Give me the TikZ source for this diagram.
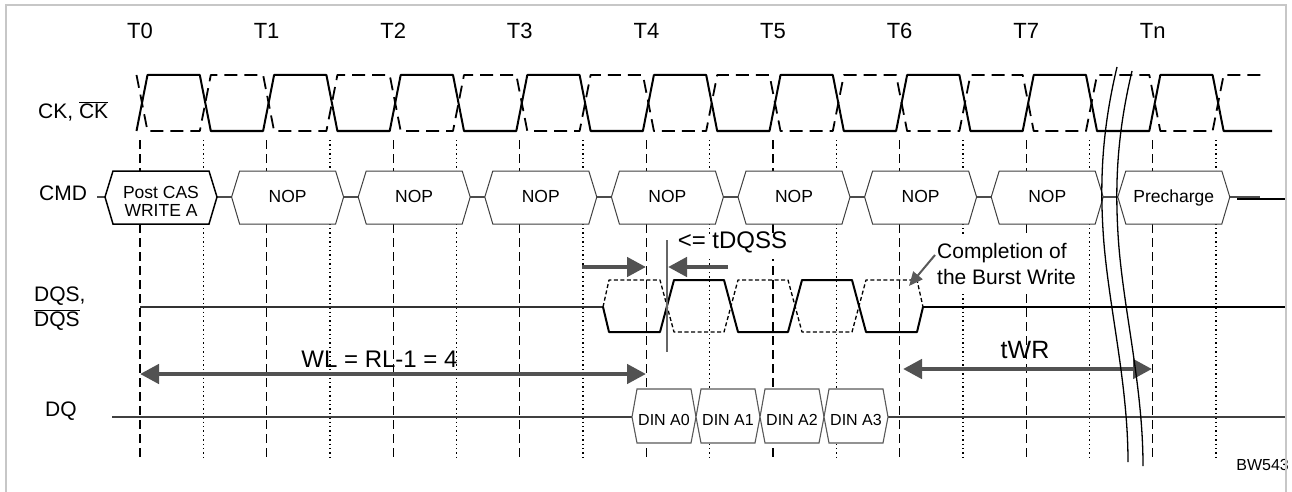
\documentclass[tikz,border=0pt]{standalone}
\usepackage{fontspec}
\setmainfont{Liberation Sans}
\usetikzlibrary{arrows.meta}

\tikzset{
  tlab/.style={anchor=base, inner sep=0pt, font=\fontsize{22pt}{26pt}\selectfont},
  siglab/.style={anchor=base west, inner sep=0pt, font=\fontsize{21pt}{26pt}\selectfont},
  tickline/.style={line width=1.2pt, dash pattern=on 9pt off 5pt},
  halfline/.style={line width=1.4pt, dash pattern=on 1.4pt off 3pt},
  clk/.style={line width=2pt, line join=round},
  clkbar/.style={clk, line width=1.8pt, dash pattern=on 13pt off 7pt},
  dqs/.style={line width=2pt, line join=round},
  dqsbar/.style={line width=1.3pt, line join=round, dash pattern=on 4pt off 2.5pt},
  busline/.style={draw=black!70, line width=1.1pt},
  cmdbox/.style={draw=black!75, line width=1pt, fill=white},
  cmdtext/.style={anchor=base, inner sep=0pt, font=\fontsize{17.5pt}{18pt}\selectfont},
  dinbox/.style={draw=black!65, line width=1.1pt, fill=white},
  dintext/.style={anchor=base, inner sep=0pt, font=\fontsize{16pt}{18pt}\selectfont},
  dimarrow/.style={draw=black!68, line width=4.5pt, >={Triangle[length=19pt,width=19pt]}},
  dimlab/.style={anchor=base, inner sep=0pt, font=\fontsize{24pt}{28pt}\selectfont},
  breakline/.style={line width=1.3pt},
}

\begin{document}
\begin{tikzpicture}[x=1pt,y=-1pt]
  \useasboundingbox (0,0) rectangle (1292,492);

  % clock edges, T lines dashed, half periods dotted
  \foreach \k in {0,...,8} {
    \draw[tickline] ({140+126.6*\k},140) -- ({140+126.6*\k},458);
    \draw[halfline] ({203.3+126.6*\k},140) -- ({203.3+126.6*\k},458);
  }
  \fill[white] (676,235) rectangle (790,259);
  \fill[white] (929,237) rectangle (1080,292);

  \foreach \k/\lab in {0/T0,1/T1,2/T2,3/T3,4/T4,5/T5,6/T6,7/T7,8/Tn}
    \node[tlab] (t\k) at ({140+126.6*\k},39) {\lab};

  % CK and CK#
  \draw[clk] (136.5,131) \foreach \j in {0,2,...,16} {
    -- ({136.5+63.3*\j},131) -- ({147.5+63.3*\j},75)
    -- ({136.5+63.3*(\j+1)},75) -- ({147.5+63.3*(\j+1)},131) } -- (1272,131);
  \draw[clkbar] (136.5,75) \foreach \j in {0,2,...,16} {
    -- ({136.5+63.3*\j},75) -- ({147.5+63.3*\j},131)
    -- ({136.5+63.3*(\j+1)},131) -- ({147.5+63.3*(\j+1)},75) } -- (1265,75);

  % commands
  \draw[busline] (97,197) -- (1260,197);
  \draw[line width=2pt] (1237,198.5) -- (1285,198.5);
  \draw[cmdbox, draw=black, line width=1.5pt] (105,197) -- ++(8,-26) -- ++(96,0)
    -- ++(8,26) -- ++(-8,27) -- ++(-96,0) -- cycle;
  \node[cmdtext, anchor=center, align=center] (cmd0) at (161,201) {Post CAS\\WRITE A};
  \foreach \k/\cmd in {1/NOP,2/NOP,3/NOP,4/NOP,5/NOP,6/NOP,7/NOP,8/Precharge} {
    \draw[cmdbox] ({140+126.6*\k-35},197) -- ++(8,-26) -- ++(96,0)
      -- ++(8,26) -- ++(-8,27) -- ++(-96,0) -- cycle;
    \node[cmdtext] (cmd\k) at ({140+126.6*\k+21},202) {\cmd};
  }

  % data
  \draw[busline, draw=black!75] (112,417) -- (1285,417);
  \foreach \i in {0,...,3} {
    \draw[dinbox] ({632+64*\i},417) -- ++(5,-28) -- ++(54,0)
      -- ++(5,28) -- ++(-5,26) -- ++(-54,0) -- cycle;
    \node[dintext] (din\i) at ({664+64*\i},425.5) {DIN A\i};
  }

  % strobe
  \draw[line width=1.5pt, black!80] (140,307) -- (603,307);
  \draw[line width=1.5pt] (923,307) -- (1285,307);
  \draw[dqs] (603,307) -- (609,332) \foreach \j in {0,1} {
    -- ({660+128*\j},332) -- ({674+128*\j},280)
    -- ({724+128*\j},280) -- ({738+128*\j},332) } -- (917,332) -- (923,307);
  \draw[dqsbar] (603,307) -- (609,280) \foreach \j in {0,1} {
    -- ({660+128*\j},280) -- ({674+128*\j},332)
    -- ({724+128*\j},332) -- ({738+128*\j},280) } -- (917,280) -- (923,307);

  % timing
  \coordinate (wlA) at (140,374);
  \coordinate (wlB) at (646,374);
  \draw[dimarrow,<->] (wlA) -- (wlB);
  \node[dimlab] (wl) at (379.5,367) {WL = RL-1 = 4};

  \coordinate (twrA) at (903,369);
  \coordinate (twrB) at (1152,369);
  \draw[dimarrow,<->] (twrA) -- (twrB);
  \node[dimlab, font=\fontsize{25pt}{28pt}\selectfont] (twr) at (1025,358) {tWR};

  \coordinate (dqssL) at (582,267);
  \coordinate (dqssLt) at (646,267);
  \coordinate (dqssR) at (728,267);
  \coordinate (dqssRt) at (668,267);
  \coordinate (dqssT) at (667,240);
  \coordinate (dqssB) at (667,352);
  \draw[dimarrow,->] (dqssL) -- (dqssLt);
  \draw[dimarrow,->] (dqssR) -- (dqssRt);
  \draw[line width=1.5pt, black!60] (dqssT) -- (dqssB);
  \node[dimlab] (tdqss) at (732.5,248.6) {<= tDQSS};

  \node[siglab, anchor=north west, align=left] (cmpl) at (937,243) {Completion of\\the Burst Write};
  \coordinate (cmplA) at (935,255);
  \coordinate (cmplB) at (909,286);
  \draw[black!65, line width=2pt, -{Triangle[length=14pt,width=12pt]}] (cmplA) -- (cmplB);

  % signal names
  \node[siglab] (ck) at (38,118) {CK, $\overline{\mbox{CK}}$};
  \node[siglab] (cmd) at (39,200) {CMD};
  \node[siglab] (dqs1) at (34,301.7) {DQS,};
  \node[siglab] (dqs2) at (34,326) {$\overline{\mbox{DQS}}$};
  \node[siglab] (dq) at (45,416.7) {DQ};
  \node[anchor=base east, inner sep=0pt, font=\fontsize{16pt}{18pt}\selectfont] (bw) at (1289,470) {BW543};

  % time break
  \foreach \s in {0,1}
    \draw[breakline, shift={(15*\s,4*\s)}] (1117,67) .. controls (1102,130) and (1100,180) .. (1103,230)
      .. controls (1107,300) and (1128,380) .. (1128,462);

  \draw[black!22, line width=1.5pt] (6,492) -- (6,5) -- (1286,5) -- (1286,492);
\end{tikzpicture}
\end{document}
